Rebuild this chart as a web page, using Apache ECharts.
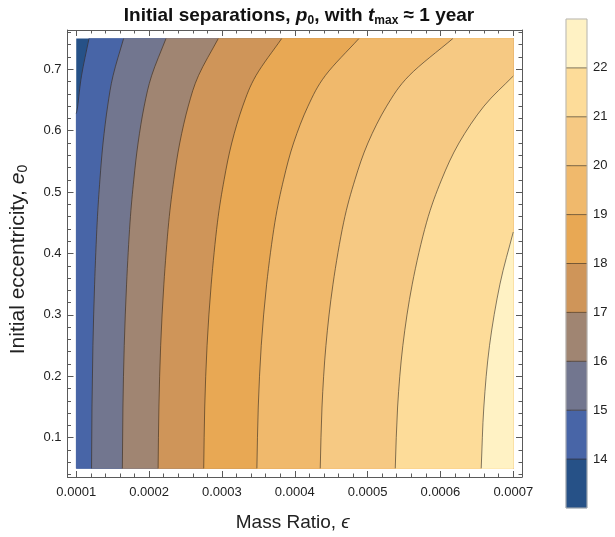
<!DOCTYPE html>
<html><head><meta charset="utf-8">
<script src="https://cdn.jsdelivr.net/npm/echarts@6/dist/echarts.min.js"></script>
<style>html,body{margin:0;padding:0;background:#fff}#c{width:615px;height:537px}</style>
</head><body><div id="c"></div>
<script>
// ---- data ----
const levels = [14, 15, 16, 17, 18, 19, 20, 21, 22];
const bandColors = ['#265187', '#4865a7', '#72768f', '#a08572', '#cf9559', '#e8a854', '#f0b96c', '#f6c983', '#fddc99', '#fff2c4'];
const xTicks = [0.0001, 0.0002, 0.0003, 0.0004, 0.0005, 0.0006, 0.0007];
const yTicks = [0.1, 0.2, 0.3, 0.4, 0.5, 0.6, 0.7];
const cbTicks = [14, 15, 16, 17, 18, 19, 20, 21, 22];
const domainX = [0.0001, 0.0007];
const domainY = [0.05, 0.75];
const cbRange = [13, 23];

// contour lines: [mass ratio, e0]
const contour14 = [[0.0001000, 0.628], [0.0001020, 0.640], [0.0001073, 0.690], [0.0001175, 0.750]];
const contour15 = [[0.0001210, 0.05], [0.0001216, 0.15], [0.0001229, 0.25], [0.0001252, 0.35], [0.0001287, 0.45], [0.0001325, 0.52], [0.0001368, 0.58], [0.0001431, 0.64], [0.0001506, 0.69], [0.0001650, 0.75]];
const contour16 = [[0.0001633, 0.05], [0.0001641, 0.15], [0.0001659, 0.25], [0.0001691, 0.35], [0.0001738, 0.45], [0.0001790, 0.52], [0.0001849, 0.58], [0.0001933, 0.64], [0.0002036, 0.69], [0.0002232, 0.75]];
const contour17 = [[0.0002124, 0.05], [0.0002135, 0.15], [0.0002159, 0.25], [0.0002203, 0.35], [0.0002269, 0.45], [0.0002340, 0.52], [0.0002421, 0.58], [0.0002538, 0.64], [0.0002679, 0.69], [0.0002950, 0.75]];
const contour18 = [[0.0002750, 0.05], [0.0002764, 0.15], [0.0002796, 0.25], [0.0002853, 0.35], [0.0002938, 0.45], [0.0003030, 0.52], [0.0003135, 0.58], [0.0003286, 0.64], [0.0003469, 0.69], [0.0003820, 0.75]];
const contour19 = [[0.0003480, 0.05], [0.0003499, 0.15], [0.0003540, 0.25], [0.0003614, 0.35], [0.0003726, 0.45], [0.0003846, 0.52], [0.0003984, 0.58], [0.0004182, 0.64], [0.0004421, 0.69], [0.0004880, 0.75]];
const contour20 = [[0.0004350, 0.05], [0.0004374, 0.15], [0.0004428, 0.25], [0.0004525, 0.35], [0.0004670, 0.45], [0.0004826, 0.52], [0.0005005, 0.58], [0.0005262, 0.64], [0.0005573, 0.69], [0.0006170, 0.75]];
const contour21 = [[0.0005380, 0.05], [0.0005412, 0.15], [0.0005484, 0.25], [0.0005613, 0.35], [0.0005808, 0.45], [0.0006015, 0.52], [0.0006255, 0.58], [0.0006598, 0.64], [0.0007000, 0.689]];
const contour22 = [[0.0006560, 0.05], [0.0006596, 0.15], [0.0006674, 0.25], [0.0006817, 0.35], [0.0007000, 0.435]];

const contours = [contour14, contour15, contour16, contour17, contour18, contour19, contour20, contour21, contour22];

// ---- layout helpers ----
const xPad = (domainX[1] - domainX[0]) * 0.02;
const yPad = (domainY[1] - domainY[0]) * 0.02;
const xMin = domainX[0] - xPad, xMax = domainX[1] + xPad;
const yMin = domainY[0] - yPad, yMax = domainY[1] + yPad;
const xMinor = [], yMinor = [];
for (let k = 4; k <= 36; k++) { if (k % 5 !== 0) xMinor.push(k * 0.00002); }
for (let k = 2; k <= 38; k++) { if (k % 5 !== 0) yMinor.push(k * 0.02); }

function closingCorners(k) {
  const c = contours[k - 1];
  const first = c[0], last = c[c.length - 1];
  const pts = [];
  if (last[1] >= domainY[1] - 1e-9) pts.push([domainX[1], domainY[1]]);
  pts.push([domainX[1], domainY[0]]);
  if (first[1] > domainY[0] + 1e-9) pts.push([domainX[0], domainY[0]]);
  return pts;
}
// smooth curve through pixel points (Catmull-Rom -> cubic Bezier)
function splinePath(pts) {
  const n = pts.length;
  const get = i => {
    if (i < 0) return [2 * pts[0][0] - pts[1][0], 2 * pts[0][1] - pts[1][1]];
    if (i >= n) return [2 * pts[n - 1][0] - pts[n - 2][0], 2 * pts[n - 1][1] - pts[n - 2][1]];
    return pts[i];
  };
  let d = 'M' + pts[0][0] + ',' + pts[0][1];
  for (let i = 0; i < n - 1; i++) {
    const p0 = get(i - 1), p1 = pts[i], p2 = pts[i + 1], p3 = get(i + 2);
    const c1 = [p1[0] + (p2[0] - p0[0]) / 6, p1[1] + (p2[1] - p0[1]) / 6];
    const c2 = [p2[0] - (p3[0] - p1[0]) / 6, p2[1] - (p3[1] - p1[1]) / 6];
    d += ' C' + c1[0] + ',' + c1[1] + ' ' + c2[0] + ',' + c2[1] + ' ' + p2[0] + ',' + p2[1];
  }
  return d;
}

const FONT = 'Liberation Sans, Arial, sans-serif';
const frameColor = '#5a5a5a';
const labelColor = '#222';

function frameAxis(dir, pos, major, withLabels) {
  const base = {
    gridIndex: 0, type: 'value', position: pos,
    min: dir === 'x' ? xMin : yMin, max: dir === 'x' ? xMax : yMax,
    splitLine: { show: false },
    axisLine: { show: major, lineStyle: { color: frameColor, width: 1 } },
    axisTick: { show: true, inside: true, length: major ? 6 : 3.5,
      customValues: major ? (dir === 'x' ? xTicks : yTicks) : (dir === 'x' ? xMinor : yMinor),
      lineStyle: { color: frameColor, width: 1 } },
    axisLabel: { show: false }
  };
  if (withLabels) {
    base.axisLabel = {
      show: true, customValues: dir === 'x' ? xTicks : yTicks,
      formatter: v => dir === 'x' ? v.toFixed(4) : v.toFixed(1),
      fontSize: 13, fontFamily: FONT, color: labelColor, margin: dir === 'x' ? 9 : 6
    };
  }
  return base;
}

const xAxes = [
  Object.assign(frameAxis('x', 'bottom', true, true), {
    name: '{n|Mass Ratio, }{i|ϵ}', nameLocation: 'middle', nameGap: 36,
    nameTextStyle: { padding: [0, 4, 0, 0], rich: { n: { fontSize: 19, fontFamily: FONT, color: labelColor }, i: { fontSize: 19, fontFamily: FONT, fontStyle: 'italic', color: labelColor } } }
  }),
  frameAxis('x', 'bottom', false, false),
  frameAxis('x', 'top', true, false),
  frameAxis('x', 'top', false, false),
  { gridIndex: 1, type: 'value', min: 0, max: 1, show: false }
];
const yAxes = [
  Object.assign(frameAxis('y', 'left', true, true), {
    name: '{n|Initial eccentricity, }{i|e}{s|0}', nameLocation: 'middle', nameGap: 37,
    nameTextStyle: { padding: [0, 12, 0, 0], rich: {
      n: { fontSize: 21, fontFamily: FONT, color: labelColor, lineHeight: 24 },
      i: { fontSize: 21, fontFamily: FONT, fontStyle: 'italic', color: labelColor, lineHeight: 24 },
      s: { fontSize: 14, fontFamily: FONT, color: labelColor, lineHeight: 10, verticalAlign: 'bottom' } } }
  }),
  frameAxis('y', 'left', false, false),
  frameAxis('y', 'right', true, false),
  frameAxis('y', 'right', false, false),
  { gridIndex: 1, type: 'value', position: 'right', min: cbRange[0], max: cbRange[1],
    splitLine: { show: false }, axisLine: { show: false },
    axisTick: { show: true, length: 5, customValues: cbTicks, lineStyle: { color: '#777' } },
    axisLabel: { customValues: cbTicks, fontSize: 13, fontFamily: FONT, color: labelColor, margin: 6 } }
];

const series = [
  { // filled bands
    type: 'custom', coordinateSystem: 'cartesian2d', xAxisIndex: 0, yAxisIndex: 0,
    silent: true, animation: false, z: 1,
    data: bandColors.map(() => [domainX[0], domainY[0]]),
    renderItem: (params, api) => {
      const k = params.dataIndex;
      if (k === 0) {
        const a = api.coord([domainX[0], domainY[0]]), b = api.coord([domainX[1], domainY[1]]);
        return { type: 'rect', shape: { x: a[0], y: b[1], width: b[0] - a[0], height: a[1] - b[1] }, style: { fill: bandColors[0] } };
      }
      const px = contours[k - 1].map(p => api.coord(p));
      let d = splinePath(px);
      closingCorners(k).forEach(p => { const q = api.coord(p); d += ' L' + q[0] + ',' + q[1]; });
      d += ' Z';
      return { type: 'path', shape: { pathData: d }, style: { fill: bandColors[k], stroke: bandColors[k], lineWidth: 0.5 } };
    }
  },
  { // contour lines
    type: 'custom', coordinateSystem: 'cartesian2d', xAxisIndex: 0, yAxisIndex: 0,
    silent: true, animation: false, z: 3,
    data: levels.map(() => [domainX[0], domainY[0]]),
    renderItem: (params, api) => {
      const px = contours[params.dataIndex].map(p => api.coord(p));
      return { type: 'path', shape: { pathData: splinePath(px) }, style: { fill: null, stroke: 'rgba(45,35,25,0.75)', lineWidth: 0.8 } };
    }
  }
];
// colour bar
const cbBands = [];
for (let i = 0; i < bandColors.length; i++) cbBands.push([0.5, cbRange[0] + i, cbRange[0] + i + 1]);
series.push({
  type: 'custom', coordinateSystem: 'cartesian2d', xAxisIndex: 4, yAxisIndex: 4,
  silent: true, animation: false, z: 2,
  encode: { x: 0, y: [1, 2] },
  data: cbBands,
  renderItem: (params, api) => {
    const lo = api.value(1), hi = api.value(2);
    const a = api.coord([0, lo]), b = api.coord([1, hi]);
    const children = [{ type: 'rect', shape: { x: a[0], y: b[1], width: b[0] - a[0], height: a[1] - b[1] },
      style: { fill: bandColors[params.dataIndex], stroke: bandColors[params.dataIndex], lineWidth: 0.5 } }];
    if (lo > cbRange[0]) children.push({ type: 'line', shape: { x1: a[0], y1: a[1], x2: b[0], y2: a[1] }, style: { stroke: 'rgba(45,35,25,0.6)', lineWidth: 1 }, z2: 5 });
    if (params.dataIndex === bandColors.length - 1) {
      const c0 = api.coord([0, cbRange[0]]), c1 = api.coord([1, cbRange[1]]);
      children.push({ type: 'rect', shape: { x: c0[0], y: c1[1], width: c1[0] - c0[0], height: c0[1] - c1[1] }, style: { fill: null, stroke: '#b5b5b5', lineWidth: 1 }, z2: 6 });
    }
    return { type: 'group', children };
  }
});

const chart = echarts.init(document.getElementById('c'), null, { renderer: 'canvas' });
chart.setOption({
  backgroundColor: '#fff',
  animation: false,
  title: {
    text: '{b|Initial separations, }{bi|p}{s|0}{b|, with }{bi|t}{s|max}{b| ≈ 1 year}',
    left: 294, top: 0, textAlign: 'center',
    textStyle: { rich: {
      b: { fontSize: 19, fontWeight: 'bold', fontFamily: FONT, color: '#111', lineHeight: 22 },
      bi: { fontSize: 19, fontWeight: 'bold', fontStyle: 'italic', fontFamily: FONT, color: '#111', lineHeight: 22 },
      s: { fontSize: 12, fontWeight: 'bold', fontFamily: FONT, color: '#111', lineHeight: 9, verticalAlign: 'bottom' } } }
  },
  grid: [
    { left: 64, top: 30, width: 458, height: 457 },
    { left: 566, top: 19, width: 21, height: 489 }
  ],
  xAxis: xAxes,
  yAxis: yAxes,
  series
});
</script></body></html>
